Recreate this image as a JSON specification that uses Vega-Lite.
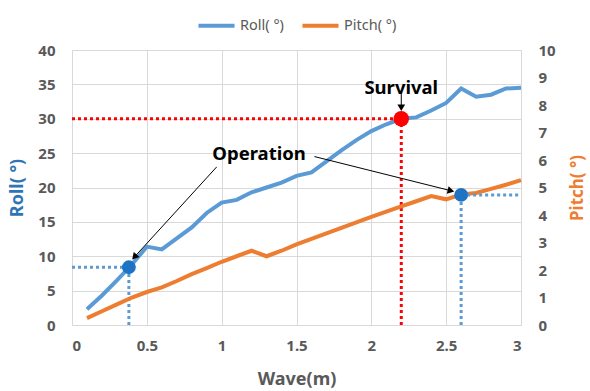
{
  "$schema": "https://vega.github.io/schema/vega-lite/v6.json",
  "width": 449,
  "height": 275,
  "autosize": {"type": "none"},
  "padding": {"left": 72, "top": 50, "right": 69, "bottom": 66},
  "config": {
    "font": "Noto Sans",
    "view": {"stroke": "#D9D9D9", "strokeWidth": 1},
    "axis": {
      "grid": true,
      "gridColor": "#D9D9D9",
      "domain": false,
      "ticks": false,
      "labelOverlap": false,
      "labelFont": "Noto Sans",
      "labelFontWeight": "bold",
      "labelColor": "#595959",
      "labelFontSize": 15,
      "titleFont": "Noto Sans",
      "titleFontWeight": "bold"
    }
  },
  "datasets": {
    "main": [
      {"wave": 0.1, "roll": 2.3, "pitch": 0.25},
      {"wave": 0.2, "roll": 4.3, "pitch": 0.5},
      {"wave": 0.3, "roll": 6.5, "pitch": 0.75},
      {"wave": 0.4, "roll": 8.8, "pitch": 1.0},
      {"wave": 0.5, "roll": 11.4, "pitch": 1.2},
      {"wave": 0.6, "roll": 11.0, "pitch": 1.37},
      {"wave": 0.7, "roll": 12.6, "pitch": 1.6},
      {"wave": 0.8, "roll": 14.2, "pitch": 1.85},
      {"wave": 0.9, "roll": 16.3, "pitch": 2.07},
      {"wave": 1.0, "roll": 17.8, "pitch": 2.3},
      {"wave": 1.1, "roll": 18.2, "pitch": 2.5},
      {"wave": 1.2, "roll": 19.3, "pitch": 2.7},
      {"wave": 1.3, "roll": 20.0, "pitch": 2.5},
      {"wave": 1.4, "roll": 20.7, "pitch": 2.7},
      {"wave": 1.5, "roll": 21.7, "pitch": 2.93},
      {"wave": 1.6, "roll": 22.2, "pitch": 3.13},
      {"wave": 1.7, "roll": 23.8, "pitch": 3.33},
      {"wave": 1.8, "roll": 25.4, "pitch": 3.53},
      {"wave": 1.9, "roll": 26.9, "pitch": 3.73},
      {"wave": 2.0, "roll": 28.2, "pitch": 3.93},
      {"wave": 2.1, "roll": 29.2, "pitch": 4.12},
      {"wave": 2.2, "roll": 30.0, "pitch": 4.31},
      {"wave": 2.3, "roll": 30.2, "pitch": 4.5},
      {"wave": 2.4, "roll": 31.2, "pitch": 4.69},
      {"wave": 2.5, "roll": 32.3, "pitch": 4.57},
      {"wave": 2.6, "roll": 34.4, "pitch": 4.75},
      {"wave": 2.7, "roll": 33.2, "pitch": 4.8},
      {"wave": 2.8, "roll": 33.5, "pitch": 4.95},
      {"wave": 2.9, "roll": 34.4, "pitch": 5.1},
      {"wave": 3.0, "roll": 34.5, "pitch": 5.27}
    ],
    "redRules": [
      {"wave": 0, "roll": 30, "wave2": 2.2, "roll2": 30},
      {"wave": 2.2, "roll": 0, "wave2": 2.2, "roll2": 30}
    ],
    "blueRulesRoll": [
      {"wave": 0, "roll": 8.4, "wave2": 0.38, "roll2": 8.4},
      {"wave": 0.38, "roll": 0, "wave2": 0.38, "roll2": 8.4}
    ],
    "blueRulesPitch": [
      {"wave": 2.6, "pitch": 4.73, "wave2": 3.0, "pitch2": 4.73},
      {"wave": 2.6, "pitch": 0, "wave2": 2.6, "pitch2": 4.73}
    ],
    "arrows": [
      {"wave": 0.967, "roll": 23.0, "wave2": 0.417, "roll2": 9.89},
      {"wave": 1.62, "roll": 24.5, "wave2": 2.532, "roll2": 19.53},
      {"wave": 2.2, "roll": 33.7, "wave2": 2.2, "roll2": 31.6}
    ],
    "labels": [
      {"wave": 2.2, "roll": 34.5, "label": "Survival"},
      {"wave": 1.25, "roll": 24.9, "label": "Operation"}
    ]
  },
  "encoding": {
    "x": {
      "field": "wave", "type": "quantitative",
      "scale": {"domain": [0, 3], "nice": false},
      "axis": {"values": [0, 0.5, 1, 1.5, 2, 2.5, 3], "labelOverlap": false, "format": "~g", "title": "Wave(m)", "titleColor": "#595959", "titleFontSize": 18, "labelPadding": 13, "titlePadding": 17}
    }
  },
  "layer": [
    {
      "encoding": {
        "y": {
          "field": "roll", "type": "quantitative",
          "scale": {"domain": [0, 40], "nice": false},
          "axis": {"orient": "left", "values": [0, 5, 10, 15, 20, 25, 30, 35, 40], "labelOverlap": false, "title": "Roll( °)", "titleColor": "#2E75B6", "titleFontSize": 18, "labelPadding": 17, "titlePadding": 11}
        }
      },
      "layer": [
        {
          "data": {"name": "main"},
          "mark": {"type": "line", "strokeWidth": 4},
          "encoding": {
            "color": {
              "datum": "Roll( °)",
              "scale": {"domain": ["Roll( °)", "Pitch( °)"], "range": ["#5B9BD5", "#ED7D31"]},
              "legend": {
                "title": null, "orient": "none", "direction": "horizontal",
                "legendX": 124, "legendY": -45,
                "symbolType": "stroke", "symbolSize": 1300, "symbolStrokeWidth": 4,
                "labelFontSize": 14.5, "labelColor": "#595959", "labelFont": "Noto Sans",
                "columnPadding": 10, "labelOffset": 3
              }
            }
          }
        },
        {
          "data": {"name": "redRules"},
          "mark": {"type": "rule", "color": "#FF0000", "strokeWidth": 3, "strokeDash": [3, 3]},
          "encoding": {"x2": {"field": "wave2"}, "y2": {"field": "roll2"}}
        },
        {
          "data": {"name": "blueRulesRoll"},
          "mark": {"type": "rule", "color": "#5B9BD5", "strokeWidth": 3, "strokeDash": [3, 3]},
          "encoding": {"x2": {"field": "wave2"}, "y2": {"field": "roll2"}}
        },
        {
          "data": {"values": [{"wave": 2.2, "roll": 30}]},
          "mark": {"type": "point", "shape": "circle", "filled": true, "opacity": 1, "color": "#FF0000", "size": 240},
          "encoding": {}
        },
        {
          "data": {"values": [{"wave": 0.38, "roll": 8.4}]},
          "mark": {"type": "point", "shape": "circle", "filled": true, "opacity": 1, "color": "#1F73C4", "size": 190},
          "encoding": {}
        },
        {
          "data": {"name": "arrows"},
          "mark": {"type": "rule", "color": "#000000", "strokeWidth": 1},
          "encoding": {"x2": {"field": "wave2"}, "y2": {"field": "roll2"}}
        },
        {
          "data": {"values": [{"wave": 0.417, "roll": 9.89}]},
          "mark": {"type": "point", "shape": "triangle-up", "filled": true, "opacity": 1, "color": "#000000", "size": 60, "angle": 222},
          "encoding": {}
        },
        {
          "data": {"values": [{"wave": 2.532, "roll": 19.53}]},
          "mark": {"type": "point", "shape": "triangle-up", "filled": true, "opacity": 1, "color": "#000000", "size": 60, "angle": 104},
          "encoding": {}
        },
        {
          "data": {"values": [{"wave": 2.2, "roll": 31.6}]},
          "mark": {"type": "point", "shape": "triangle-up", "filled": true, "opacity": 1, "color": "#000000", "size": 60, "angle": 180},
          "encoding": {}
        },
        {
          "data": {"name": "labels"},
          "mark": {"type": "text", "fontWeight": "bold", "fontSize": 18.5, "color": "#000000", "font": "Noto Sans"},
          "encoding": {"text": {"field": "label"}}
        }
      ]
    },
    {
      "encoding": {
        "y": {
          "field": "pitch", "type": "quantitative",
          "scale": {"domain": [0, 10], "nice": false},
          "axis": {"orient": "right", "grid": false, "values": [0, 1, 2, 3, 4, 5, 6, 7, 8, 9, 10], "labelOverlap": false, "title": "Pitch( °)", "titleColor": "#ED7D31", "titleFontSize": 17, "titleAngle": 270, "labelPadding": 17, "titlePadding": 31}
        }
      },
      "layer": [
        {
          "data": {"name": "main"},
          "mark": {"type": "line", "strokeWidth": 4},
          "encoding": {"color": {"datum": "Pitch( °)"}}
        },
        {
          "data": {"name": "blueRulesPitch"},
          "mark": {"type": "rule", "color": "#5B9BD5", "strokeWidth": 3, "strokeDash": [3, 3]},
          "encoding": {"x2": {"field": "wave2"}, "y2": {"field": "pitch2"}}
        },
        {
          "data": {"values": [{"wave": 2.6, "pitch": 4.73}]},
          "mark": {"type": "point", "shape": "circle", "filled": true, "opacity": 1, "color": "#1F73C4", "size": 190},
          "encoding": {}
        }
      ]
    }
  ],
  "resolve": {"scale": {"y": "independent"}}
}
